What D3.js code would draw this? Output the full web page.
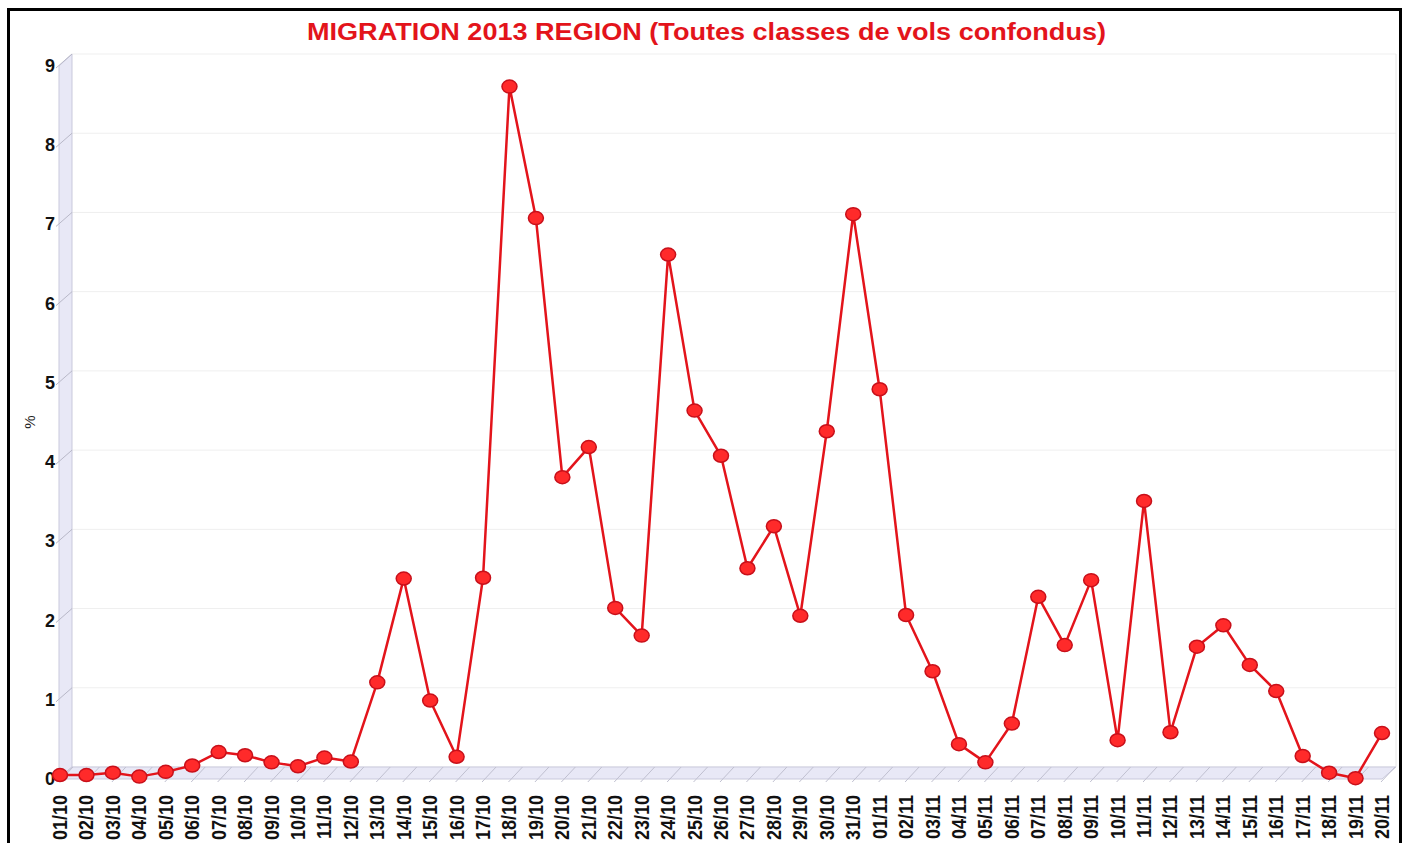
<!DOCTYPE html>
<html><head><meta charset="utf-8">
<script src="https://cdn.jsdelivr.net/npm/d3@7"></script>
<style>
html,body{margin:0;padding:0;background:#fff;overflow:hidden}
svg{display:block;font-family:"Liberation Sans",Arial,sans-serif}
</style></head>
<body>
<svg id="c" width="1409" height="843"></svg>
<script>
const title = "MIGRATION 2013 REGION (Toutes classes de vols confondus)";
const yLabel = "%";
const dates = ["01/10","02/10","03/10","04/10","05/10","06/10","07/10","08/10","09/10","10/10",
  "11/10","12/10","13/10","14/10","15/10","16/10","17/10","18/10","19/10","20/10",
  "21/10","22/10","23/10","24/10","25/10","26/10","27/10","28/10","29/10","30/10","31/10",
  "01/11","02/11","03/11","04/11","05/11","06/11","07/11","08/11","09/11","10/11",
  "11/11","12/11","13/11","14/11","15/11","16/11","17/11","18/11","19/11","20/11"];
const values = [0.05,0.05,0.08,0.03,0.09,0.17,0.34,0.30,0.21,0.16,
  0.27,0.22,1.22,2.53,0.99,0.28,2.54,8.74,7.08,3.81,
  4.19,2.16,1.81,6.62,4.65,4.08,2.66,3.19,2.06,4.39,7.13,
  4.92,2.07,1.36,0.44,0.21,0.70,2.30,1.69,2.51,0.49,
  3.51,0.59,1.67,1.94,1.44,1.11,0.29,0.08,0.01,0.58];
const yTicks = [0,1,2,3,4,5,6,7,8,9];

const svg = d3.select("#c");
const dx = 13, dy = -12;           // 3D depth offset
const x = d3.scalePoint().domain(dates).range([60, 1382]);
const y = d3.scaleLinear().domain([0, 9]).range([779, 66]);
const xL = 59, xR = 1382, y0 = y(0), yTop = y(9);

// outer border
svg.append("rect").attr("x", 8.5).attr("y", 9.5).attr("width", 1392).attr("height", 860)
  .attr("fill", "none").attr("stroke", "#000").attr("stroke-width", 3);

// title
svg.append("text").attr("x", 307).attr("y", 40)
  .attr("textLength", 799).attr("lengthAdjust", "spacingAndGlyphs")
  .attr("font-size", 24).attr("font-weight", "bold").attr("fill", "#e3141b").text(title);

// back gridlines
svg.append("g").selectAll("line").data(yTicks).join("line")
  .attr("x1", xL + dx).attr("x2", xR + dx + 1)
  .attr("y1", d => y(d) + dy).attr("y2", d => y(d) + dy)
  .attr("stroke", "#efefef").attr("stroke-width", 1);
// right back edge
svg.append("line").attr("x1", xR + dx + 1).attr("x2", xR + dx + 1)
  .attr("y1", yTop + dy).attr("y2", y0 + dy).attr("stroke", "#e6e6e6");

// left wall
svg.append("path")
  .attr("d", `M${xL},${yTop} L${xL + dx},${yTop + dy} L${xL + dx},${y0 + dy} L${xL},${y0} Z`)
  .attr("fill", "#e8e8f6").attr("stroke", "#c9c9dc").attr("stroke-width", 1);
// wall ticks
svg.append("g").selectAll("line").data(yTicks).join("line")
  .attr("x1", xL - 3).attr("y1", d => y(d) + 2)
  .attr("x2", xL + dx).attr("y2", d => y(d) + dy)
  .attr("stroke", "#b8b8c8").attr("stroke-width", 1);

// floor
svg.append("path")
  .attr("d", `M${xL},${y0} L${xL + dx},${y0 + dy} L${xR + dx + 1},${y0 + dy} L${xR},${y0} Z`)
  .attr("fill", "#e8e8f6").attr("stroke", "#c9c9dc").attr("stroke-width", 1);
// floor ticks
svg.append("g").selectAll("line").data(dates).join("line")
  .attr("x1", d => x(d) - 1).attr("y1", y0 + 3)
  .attr("x2", d => x(d) + dx).attr("y2", y0 + dy)
  .attr("stroke", "#c0c0d0").attr("stroke-width", 1);

// y tick labels
svg.append("g").selectAll("text").data(yTicks).join("text")
  .attr("x", 55).attr("y", d => y(d) + 6).attr("text-anchor", "end")
  .attr("font-size", 18).attr("font-weight", "bold").attr("fill", "#111")
  .text(d => d);

// y axis title
svg.append("text").attr("transform", "translate(35,422) rotate(-90)")
  .attr("text-anchor", "middle").attr("font-size", 15).attr("fill", "#222").text(yLabel);

// x labels
svg.append("g").selectAll("text").data(dates).join("text")
  .attr("transform", d => `translate(${x(d) + 7},795) rotate(-90) scale(1,1.12)`)
  .attr("text-anchor", "end").attr("font-size", 18).attr("font-weight", "bold").attr("fill", "#111")
  .text(d => d);

// line
const line = d3.line().x((d, i) => x(dates[i])).y(d => y(d));
svg.append("path").datum(values).attr("d", line)
  .attr("fill", "none").attr("stroke", "#e3141b").attr("stroke-width", 2.5)
  .attr("stroke-linejoin", "round");

// markers
svg.append("g").selectAll("ellipse").data(values).join("ellipse")
  .attr("cx", (d, i) => x(dates[i])).attr("cy", d => y(d))
  .attr("rx", 7.5).attr("ry", 6.5)
  .attr("fill", "#ff2a2a").attr("stroke", "#c8101a").attr("stroke-width", 1.5);
</script>
</body></html>
